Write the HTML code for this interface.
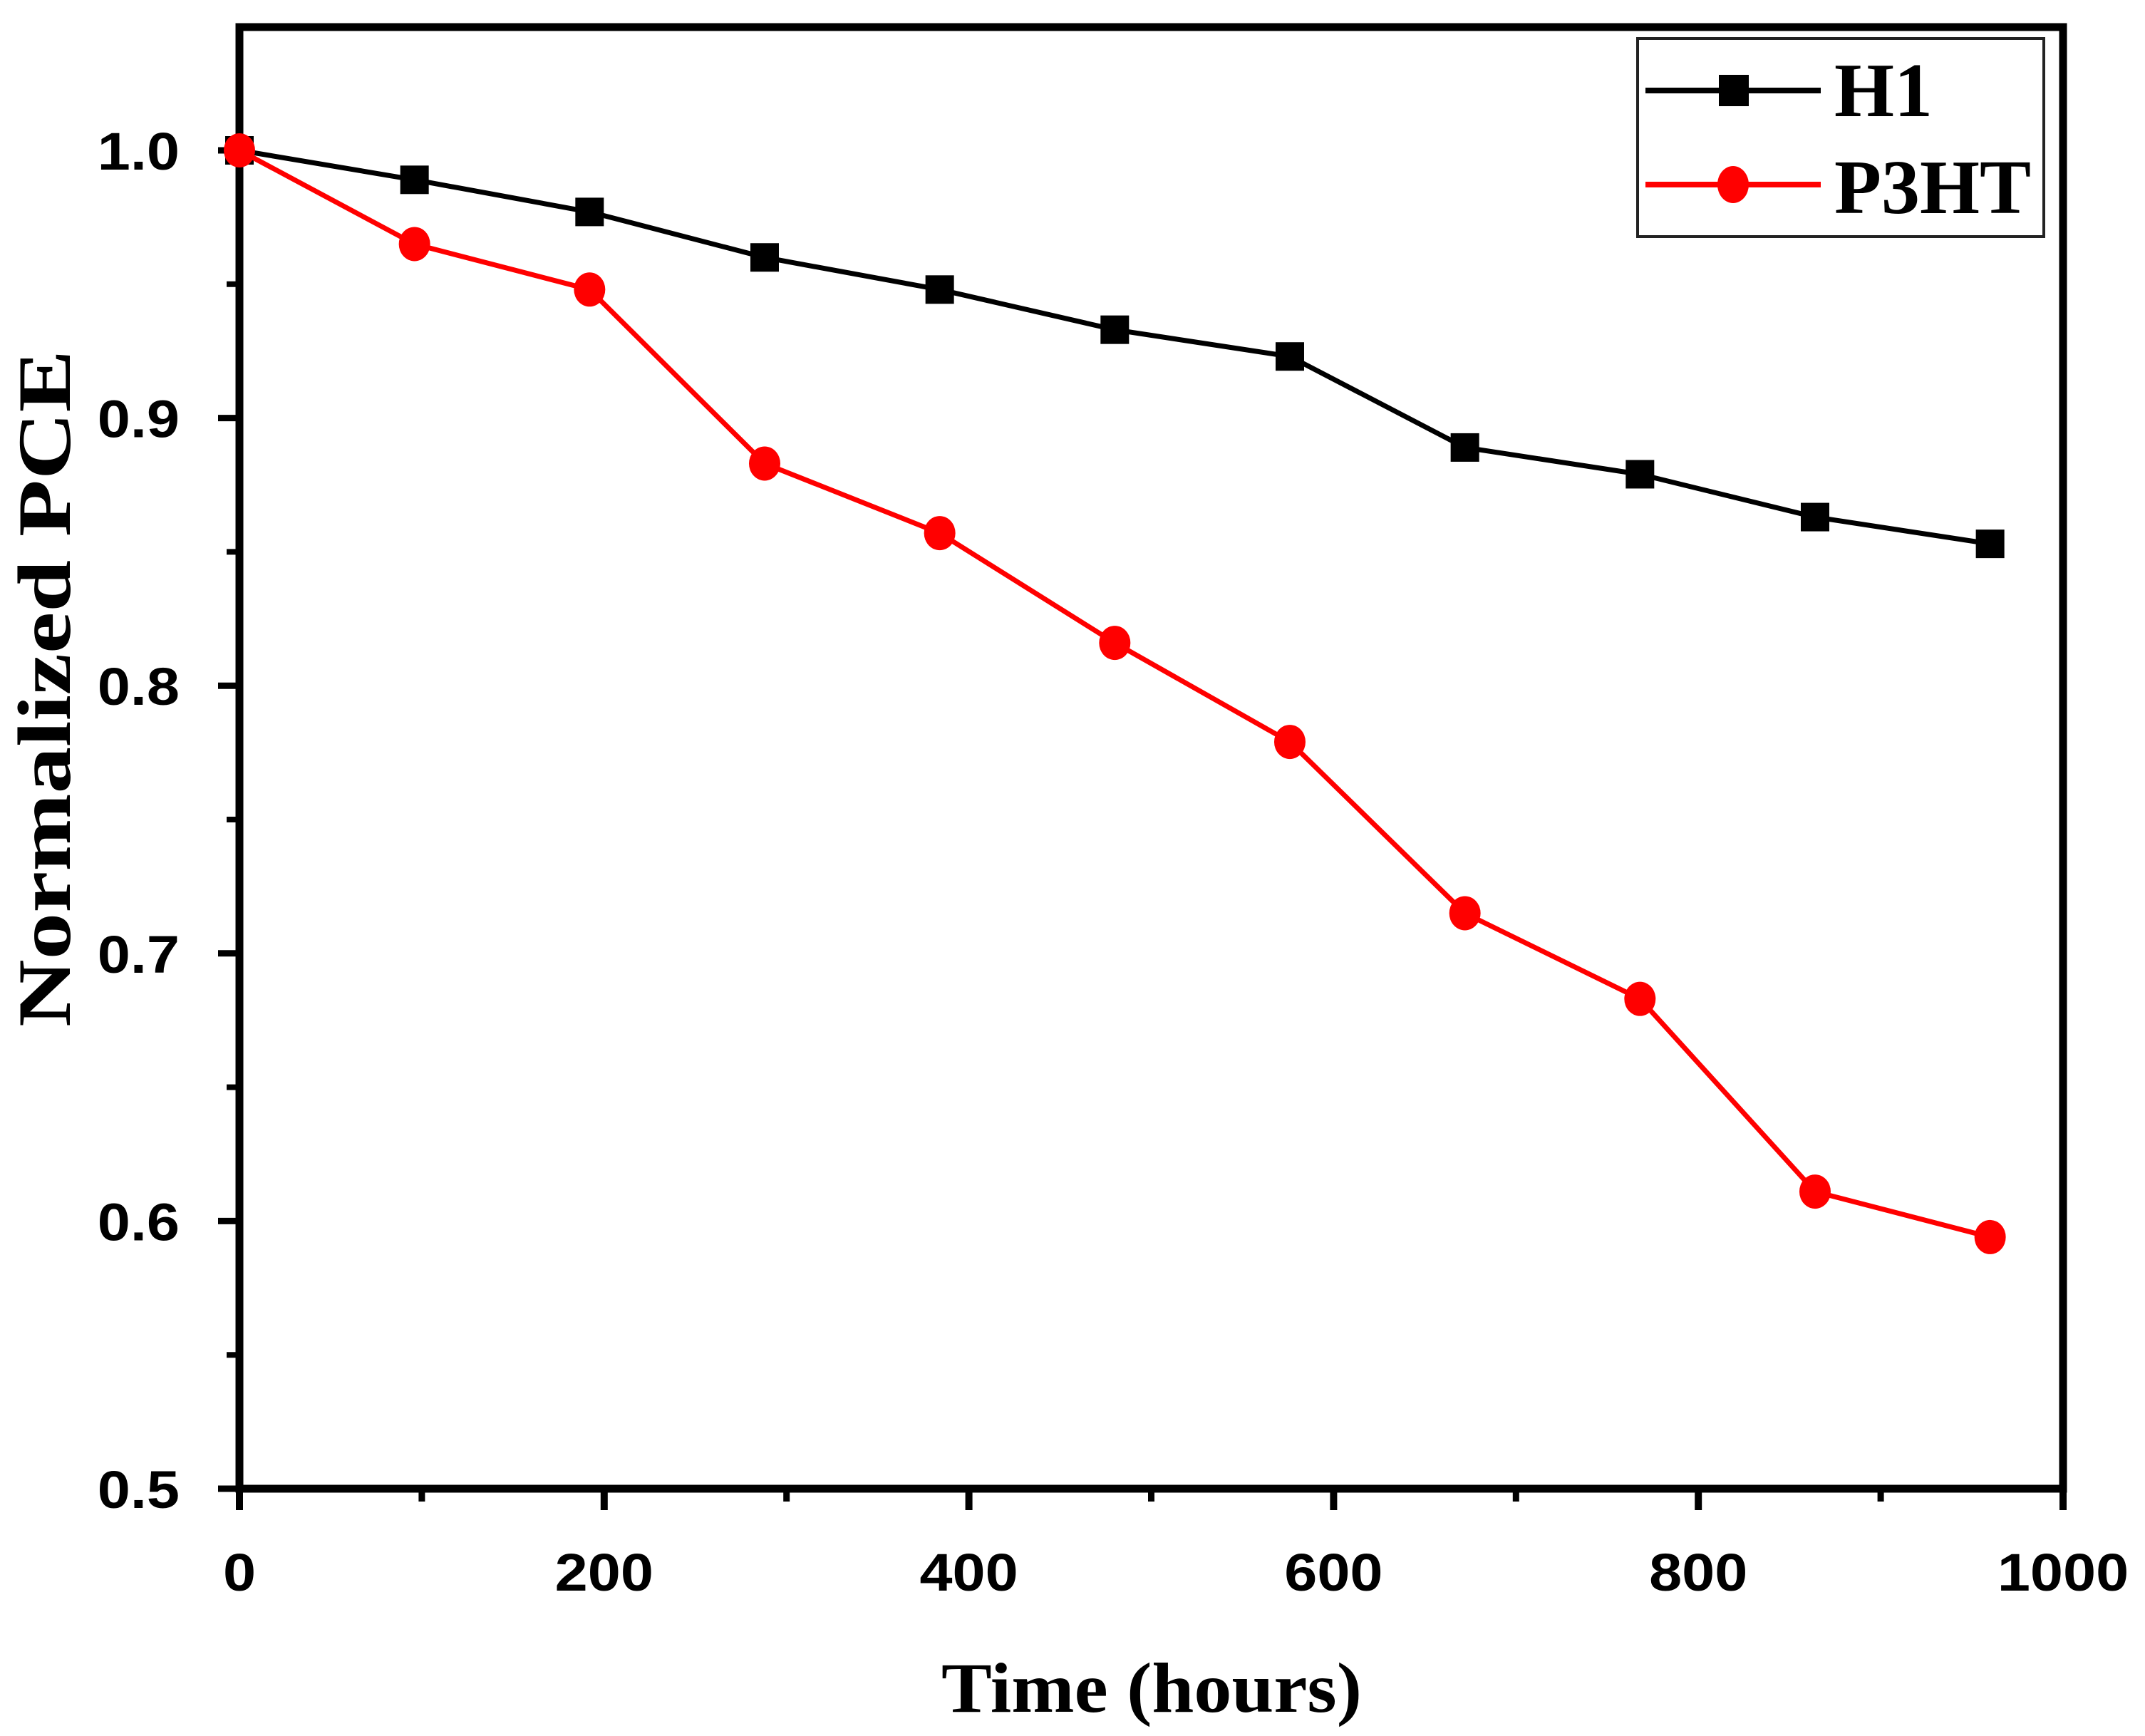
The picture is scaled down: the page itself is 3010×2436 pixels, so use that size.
<!DOCTYPE html>
<html><head><meta charset="utf-8"><style>
html,body{margin:0;padding:0;background:#fff;}
svg{display:block;}
</style></head><body>
<svg id="chart" width="3010" height="2436" viewBox="0 0 3010 2436" xmlns="http://www.w3.org/2000/svg">
<g id="axes"></g>
<g id="series"></g>
<text x="1616" y="2402" text-anchor="middle" font-family="Liberation Serif, serif" font-weight="bold" font-size="100" textLength="590" lengthAdjust="spacingAndGlyphs">Time (hours)</text>
<text transform="translate(98,966) rotate(-90)" text-anchor="middle" font-family="Liberation Serif, serif" font-weight="bold" font-size="106" textLength="950" lengthAdjust="spacingAndGlyphs">Normalized PCE</text>
<g>
<rect x="2298" y="54" width="570" height="278" fill="#fff" stroke="#222" stroke-width="4"/>
<g>
<line x1="2309" y1="127" x2="2555" y2="127" stroke="#000" stroke-width="8"/>
<rect x="2412" y="105" width="42" height="44" fill="#000"/>
<text x="2574" y="163" font-family="Liberation Serif, serif" font-weight="bold" font-size="108">H1</text>
</g>
<g>
<line x1="2309" y1="259" x2="2555" y2="259" stroke="#f00" stroke-width="8"/>
<ellipse cx="2432" cy="259" rx="22" ry="26" fill="#f00"/>
<text x="2574" y="299" font-family="Liberation Serif, serif" font-weight="bold" font-size="108">P3HT</text>
</g>
</g>
</svg>
<script>
const hours = [0, 96, 192, 288, 384, 480, 576, 672, 768, 864, 960];
const h1Values = [1.0, 0.989, 0.977, 0.960, 0.948, 0.933, 0.923, 0.889, 0.879, 0.863, 0.853];
const p3htValues = [1.0, 0.965, 0.948, 0.883, 0.857, 0.816, 0.779, 0.715, 0.683, 0.611, 0.594];
const xTickLabels = ["0", "200", "400", "600", "800", "1000"];
const yTickLabels = ["0.5", "0.6", "0.7", "0.8", "0.9", "1.0"];

const NS = "http://www.w3.org/2000/svg";
const L = 336, R = 2895, T = 38, B = 2089;
const X0 = 0, X1 = 1000, Y0 = 0.5, Y1 = 1.0, Y1px = 211;
function xs(v){ return L + (v - X0) / (X1 - X0) * (R - L); }
function ys(v){ return B - (v - Y0) / (Y1 - Y0) * (B - Y1px); }
function mk(tag, attrs, parent){
  const e = document.createElementNS(NS, tag);
  for (const k in attrs) e.setAttribute(k, attrs[k]);
  parent.appendChild(e);
  return e;
}
const axes = document.getElementById('axes');
const series = document.getElementById('series');

const frame = mk('rect', {x: L, y: T, width: R - L, height: B - T, fill: 'none', stroke: '#000', 'stroke-width': 11}, axes);



xTickLabels.forEach((lab, i) => {
  const v = parseFloat(lab);
  const x = xs(v);
  const t = mk('line', {x1: x, y1: B, x2: x, y2: B + 30, stroke: '#000', 'stroke-width': 10}, axes);
  
  
  const tx = mk('text', {x: 0, y: 0, transform: 'translate(' + x + ',2232) scale(1.12,1)', 'text-anchor': 'middle', 'font-family': 'Liberation Sans, sans-serif', 'font-weight': 'bold', 'font-size': 74}, axes);
  tx.textContent = lab;
  
  
  if (i < xTickLabels.length - 1) {
    const mx = xs(v + 100);
    const m = mk('line', {x1: mx, y1: B, x2: mx, y2: B + 18, stroke: '#000', 'stroke-width': 9}, axes);
    
    
  }
});
yTickLabels.forEach((lab, i) => {
  const v = parseFloat(lab);
  const y = ys(v);
  const t = mk('line', {x1: L - 30, y1: y, x2: L, y2: y, stroke: '#000', 'stroke-width': 9}, axes);
  
  
  const tx = mk('text', {x: 0, y: 0, transform: 'translate(252,' + (y + 27) + ') scale(1.12,1)', 'text-anchor': 'end', 'font-family': 'Liberation Sans, sans-serif', 'font-weight': 'bold', 'font-size': 74}, axes);
  tx.textContent = lab;
  
  
  if (i < yTickLabels.length - 1) {
    const my = ys(v + 0.05);
    const m = mk('line', {x1: L - 18, y1: my, x2: L, y2: my, stroke: '#000', 'stroke-width': 8}, axes);
    
    
  }
});

function drawSeries(vals, color, kind, name){
  const g = mk('g', {}, series);
  
  
  const pts = hours.map((h, i) => xs(h) + ',' + ys(vals[i])).join(' ');
  const pl = mk('polyline', {points: pts, fill: 'none', stroke: color, 'stroke-width': 7, 'stroke-linejoin': 'round'}, g);
  
  
  hours.forEach((h, i) => {
    const x = xs(h), y = ys(vals[i]);
    let m;
    if (kind === 'square') m = mk('rect', {x: x - 20, y: y - 20, width: 40, height: 40, fill: color}, g);
    else m = mk('ellipse', {cx: x, cy: y, rx: 22, ry: 24, fill: color}, g);
    
    
  });
}
drawSeries(h1Values, '#000', 'square', 'h1');
drawSeries(p3htValues, '#f00', 'circle', 'p3ht');
</script>
</body></html>
